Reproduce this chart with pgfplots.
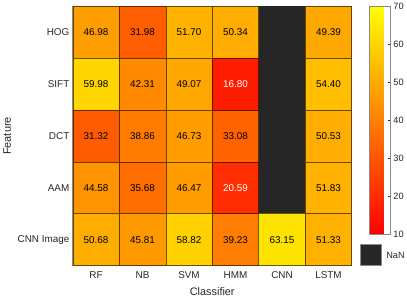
\documentclass[border=0pt]{standalone}
\usepackage{pgfplots}
\usepackage{pgfplotstable}
\pgfplotsset{compat=1.18}
\usepackage{fontspec}
\setmainfont{Liberation Sans}
\definecolor{txt}{HTML}{262626}
\definecolor{nancol}{HTML}{262626}
\definecolor{boxgray}{HTML}{8A8A8A}

% cells with black text
\pgfplotstableread{
x y v
0 0 46.98
1 0 31.98
2 0 51.70
3 0 50.34
5 0 49.39
0 1 59.98
1 1 42.31
2 1 49.07
5 1 54.40
0 2 31.32
1 2 38.86
2 2 46.73
3 2 33.08
5 2 50.53
0 3 44.58
1 3 35.68
2 3 46.47
5 3 51.83
0 4 50.68
1 4 45.81
2 4 58.82
3 4 39.23
4 4 63.15
5 4 51.33
}\cellsdark
% cells with white text
\pgfplotstableread{
x y v
3 1 16.80
3 3 20.59
}\cellslight
% NaN cells
\pgfplotstableread{
x y
4 0
4 1
4 2
4 3
}\cellsnan

\begin{document}
\begin{tikzpicture}
\begin{axis}[
  name=main,
  scale only axis, width=282bp, height=261.8bp,
  xmin=-0.5, xmax=5.5, ymin=-0.5, ymax=4.5, y dir=reverse,
  xtick={0,...,5}, xticklabels={RF,NB,SVM,HMM,CNN,LSTM},
  ytick={0,...,4}, yticklabels={HOG,SIFT,DCT,AAM,CNN Image},
  major tick length=0pt,
  tick label style={font=\fontsize{10bp}{12bp}\selectfont, text=txt},
  xticklabel style={yshift=-3bp},
  label style={font=\fontsize{11bp}{13bp}\selectfont, text=txt},
  xlabel style={yshift=-1.5bp},
  xlabel={Classifier}, ylabel={Feature},
  axis line style={draw=boxgray, line width=0.8bp},
  axis on top,
  colormap={autumn}{rgb255=(255,0,0) rgb255=(255,255,0)},
  point meta min=10, point meta max=70,
  colorbar right,
  colorbar style={
    scale only axis, width=21bp, height=230.5bp,
    at={(parent axis.north east)}, anchor=north west, xshift=9.2bp,
    ytick={10,20,...,70},
    ytick pos=right, xtick=\empty,
    tick align=inside, major tick length=2.5bp,
    tick style={draw=txt, line width=0.5bp},
    yticklabel style={font=\fontsize{9.3bp}{11bp}\selectfont, text=txt},
    axis line style={draw=boxgray, line width=0.8bp},
    /pgf/number format/assume math mode=true,
  },
  cell/.style={
    scatter, only marks, mark=square*, mark size=23.5bp,
    point meta=explicit,
    mark options={yscale=1.1138, line width=0.5bp},
    scatter/use mapped color={draw=mapped color!40!black, fill=mapped color},
  },
  celltext/.style={
    only marks, mark=none, point meta=explicit,
    /pgf/number format/assume math mode=true,
    nodes near coords={\pgfmathprintnumber[fixed,fixed zerofill,precision=2]{\pgfplotspointmeta}},
    every node near coord/.append style={anchor=center, inner sep=0pt, font=\fontsize{10bp}{12bp}\selectfont, text=#1},
  },
]
\addplot[only marks, mark=square*, mark size=23.5bp, mark options={fill=nancol, draw=nancol, yscale=1.1138}]
  table[x=x,y=y] {\cellsnan};
\addplot[cell] table[x=x,y=y,meta=v] {\cellsdark};
\addplot[cell] table[x=x,y=y,meta=v] {\cellslight};
\addplot[celltext=black] table[x=x,y=y,meta=v] {\cellsdark};
\addplot[celltext=white] table[x=x,y=y,meta=v] {\cellslight};
\end{axis}
\fill[nancol, draw=boxgray, line width=0.8bp] ([xshift=9.2bp]main.south east) rectangle ++(21bp,21bp);
\node[anchor=west, inner sep=0pt, font=\fontsize{9.3bp}{11bp}\selectfont, text=txt] at ([xshift=34.8bp, yshift=10.5bp]main.south east) {NaN};
\path ([shift={(-72.5bp,-30.7bp)}]main.south west) rectangle ++(407bp,295bp);
\end{tikzpicture}
\end{document}
